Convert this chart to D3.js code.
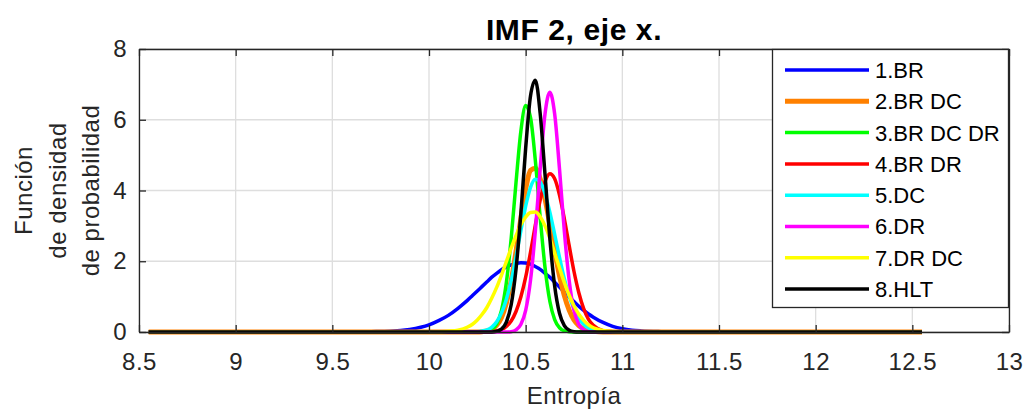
<!DOCTYPE html>
<html>
<head>
<meta charset="utf-8">
<script src="https://cdn.jsdelivr.net/npm/d3@7"></script>
<style>
  html, body { margin: 0; padding: 0; background: #fff; }
  svg { display: block; font-family: "Liberation Sans", Arial, Helvetica, sans-serif; }
</style>
</head>
<body>
<svg id="chart" width="1027" height="410"></svg>
<script>
// Entropy values (x grid) where each density curve is sampled
const entropy = [8.55, 9.5, 9.7, 9.8, 9.9, 10.0, 10.05, 10.1, 10.15, 10.2, 10.225, 10.25, 10.275, 10.3, 10.325,
  10.35, 10.375, 10.4, 10.425, 10.45, 10.475, 10.5, 10.525, 10.55, 10.575, 10.6, 10.625, 10.65, 10.675, 10.7,
  10.725, 10.75, 10.775, 10.8, 10.825, 10.85, 10.9, 10.95, 11.0, 11.05, 11.1, 11.2, 11.3, 11.5, 12.55];

// Estimated probability density for each group, one value per entropy grid point
const densBR = [0, 0, 0.01, 0.02, 0.07, 0.20, 0.32, 0.47, 0.67, 0.90, 1.03, 1.16, 1.29, 1.42, 1.55,
  1.66, 1.76, 1.84, 1.90, 1.94, 1.96, 1.95, 1.92, 1.85, 1.77, 1.66, 1.55, 1.41, 1.27, 1.13,
  0.99, 0.86, 0.73, 0.61, 0.51, 0.42, 0.27, 0.16, 0.09, 0.05, 0.03, 0.01, 0, 0, 0];
const densBRDC = [0, 0, 0, 0, 0, 0, 0, 0, 0, 0, 0, 0, 0.01, 0.03, 0.08,
  0.19, 0.41, 0.82, 1.44, 2.27, 3.20, 4.04, 4.57, 4.63, 4.33, 3.77, 3.04, 2.28, 1.59, 1.03,
  0.62, 0.34, 0.18, 0.09, 0.04, 0.02, 0, 0, 0, 0, 0, 0, 0, 0, 0];
const densBRDCDR = [0, 0, 0, 0, 0, 0, 0, 0, 0, 0, 0, 0, 0, 0.02, 0.07,
  0.23, 0.61, 1.39, 2.64, 4.22, 5.67, 6.40, 6.07, 4.85, 3.25, 1.83, 0.87, 0.35, 0.12, 0.03,
  0.01, 0, 0, 0, 0, 0, 0, 0, 0, 0, 0, 0, 0, 0, 0];
const densBRDR = [0, 0, 0, 0, 0, 0, 0, 0, 0, 0, 0, 0, 0, 0, 0.01,
  0.03, 0.07, 0.16, 0.31, 0.58, 0.99, 1.55, 2.25, 3.02, 3.73, 4.25, 4.47, 4.33, 3.87, 3.20,
  2.44, 1.71, 1.11, 0.66, 0.36, 0.19, 0.04, 0.01, 0, 0, 0, 0, 0, 0, 0];
const densDC = [0, 0, 0, 0, 0, 0, 0, 0, 0, 0, 0, 0.01, 0.03, 0.06, 0.14,
  0.29, 0.54, 0.92, 1.45, 2.12, 2.86, 3.56, 4.09, 4.32, 4.24, 3.91, 3.39, 2.76, 2.11, 1.51,
  1.02, 0.65, 0.38, 0.22, 0.11, 0.06, 0.01, 0, 0, 0, 0, 0, 0, 0, 0];
const densDR = [0, 0, 0, 0, 0, 0, 0, 0, 0, 0, 0, 0, 0, 0, 0,
  0, 0, 0, 0.01, 0.06, 0.21, 0.61, 1.46, 2.85, 4.61, 6.16, 6.78, 6.16, 4.61, 2.85,
  1.46, 0.61, 0.21, 0.06, 0.01, 0, 0, 0, 0, 0, 0, 0, 0, 0, 0];
const densDRDC = [0, 0, 0, 0, 0, 0, 0, 0.02, 0.05, 0.14, 0.22, 0.34, 0.50, 0.70, 0.96,
  1.26, 1.61, 1.99, 2.37, 2.72, 3.03, 3.25, 3.38, 3.39, 3.26, 3.00, 2.65, 2.23, 1.81, 1.40,
  1.04, 0.74, 0.50, 0.33, 0.20, 0.12, 0.04, 0.01, 0, 0, 0, 0, 0, 0, 0];
const densHLT = [0, 0, 0, 0, 0, 0, 0, 0, 0, 0, 0, 0, 0, 0, 0,
  0.02, 0.08, 0.28, 0.77, 1.77, 3.34, 5.20, 6.67, 7.12, 6.18, 4.46, 2.65, 1.30, 0.53, 0.18,
  0.05, 0.01, 0, 0, 0, 0, 0, 0, 0, 0, 0, 0, 0, 0, 0];

const seriesNames = ["1.BR", "2.BR DC", "3.BR DC DR", "4.BR DR", "5.DC", "6.DR", "7.DR DC", "8.HLT"];
const seriesValues = [densBR, densBRDC, densBRDCDR, densBRDR, densDC, densDR, densDRDC, densHLT];
const seriesColors = ["#0000ff", "#ff8000", "#00ff00", "#ff0000", "#00ffff", "#ff00ff", "#ffff00", "#000000"];
const seriesWidths = [3.5, 5, 3.5, 3.5, 3.5, 3.5, 3.5, 3.5];

const xTicks = [8.5, 9, 9.5, 10, 10.5, 11, 11.5, 12, 12.5, 13];
const yTicks = [0, 2, 4, 6, 8];

const titleText = "IMF 2, eje x.";
const xLabel = "Entropía";
const yLabelLines = ["Función", "de densidad", "de probabilidad"];

const svg = d3.select("#chart");
const plot = { left: 139, right: 1009, top: 49, bottom: 332 };
const axisColor = "#262626";

const x = d3.scaleLinear().domain([8.5, 13]).range([plot.left, plot.right]);
const y = d3.scaleLinear().domain([0, 8]).range([plot.bottom, plot.top]);

// grid
const grid = svg.append("g").attr("stroke", "#dedede").attr("stroke-width", 1.3);
grid.selectAll("line.gx").data(xTicks).join("line")
  .attr("x1", d => x(d)).attr("x2", d => x(d))
  .attr("y1", plot.top).attr("y2", plot.bottom);
grid.selectAll("line.gy").data(yTicks).join("line")
  .attr("x1", plot.left).attr("x2", plot.right)
  .attr("y1", d => y(d)).attr("y2", d => y(d));

// density curves
const line = d3.line()
  .x(d => x(d[0]))
  .y(d => y(d[1]))
  .curve(d3.curveMonotoneX);

const curves = svg.append("g").attr("fill", "none").attr("stroke-linejoin", "round");
seriesValues.forEach((vals, i) => {
  curves.append("path")
    .attr("d", line(entropy.map((e, k) => [e, vals[k]])))
    .attr("stroke", seriesColors[i])
    .attr("stroke-width", seriesWidths[i]);
});

// axes (ticks pointing inward on all four sides)
const fontSize = 24;
const spacing = "0.5px";
function styleAxis(g) {
  g.select(".domain").attr("stroke", axisColor).attr("stroke-width", 1.3);
  g.selectAll(".tick line").attr("stroke", axisColor).attr("stroke-width", 1.3);
  g.selectAll(".tick text").attr("fill", axisColor).attr("font-size", fontSize)
    .attr("letter-spacing", spacing)
    .attr("font-family", "Liberation Sans, Arial, sans-serif");
}

svg.append("g").attr("transform", `translate(0,${plot.bottom})`)
  .call(d3.axisBottom(x).tickValues(xTicks).tickFormat(d => String(d))
    .tickSizeInner(-7).tickSizeOuter(0).tickPadding(21))
  .call(styleAxis);
svg.append("g").attr("transform", `translate(0,${plot.top})`)
  .call(d3.axisTop(x).tickValues(xTicks).tickFormat("")
    .tickSizeInner(-7).tickSizeOuter(0))
  .call(styleAxis);
svg.append("g").attr("transform", `translate(${plot.left},0)`)
  .call(d3.axisLeft(y).tickValues(yTicks).tickFormat(d => String(d))
    .tickSizeInner(-7).tickSizeOuter(0).tickPadding(12))
  .call(styleAxis);
svg.append("g").attr("transform", `translate(${plot.right},0)`)
  .call(d3.axisRight(y).tickValues(yTicks).tickFormat("")
    .tickSizeInner(-7).tickSizeOuter(0))
  .call(styleAxis);

// title and axis labels
svg.append("text")
  .attr("x", (plot.left + plot.right) / 2).attr("y", 40)
  .attr("text-anchor", "middle").attr("font-size", 30).attr("font-weight", "bold")
  .attr("letter-spacing", "0.6px")
  .attr("fill", "#000").text(titleText);

svg.append("text")
  .attr("x", (plot.left + plot.right) / 2).attr("y", 404)
  .attr("text-anchor", "middle").attr("font-size", fontSize).attr("letter-spacing", spacing)
  .attr("fill", axisColor).text(xLabel);

const yl = svg.append("text")
  .attr("transform", `translate(0,${(plot.top + plot.bottom) / 2}) rotate(-90)`)
  .attr("text-anchor", "middle").attr("font-size", fontSize).attr("letter-spacing", spacing)
  .attr("fill", axisColor);
yLabelLines.forEach((t, i) => {
  yl.append("tspan").attr("x", 0).attr("y", 32 + i * 33.5).text(t);
});

// legend
const legend = svg.append("g");
legend.append("rect")
  .attr("x", 772.5).attr("y", 49.5).attr("width", 236).attr("height", 258)
  .attr("fill", "#fff").attr("stroke", axisColor).attr("stroke-width", 1.3);
seriesNames.forEach((name, i) => {
  const cy = 70 + i * 31.3;
  legend.append("line")
    .attr("x1", 785).attr("x2", 869).attr("y1", cy).attr("y2", cy)
    .attr("stroke", seriesColors[i]).attr("stroke-width", seriesWidths[i]);
  legend.append("text")
    .attr("x", 875).attr("y", cy).attr("dy", "0.36em")
    .attr("font-size", 22).attr("fill", "#000").text(name);
});
</script>
</body>
</html>
